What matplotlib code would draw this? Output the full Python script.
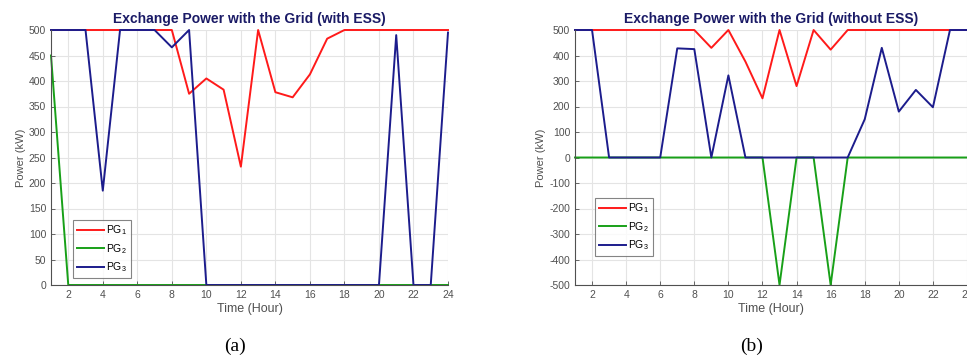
import matplotlib
matplotlib.use("Agg")
import matplotlib.pyplot as plt

plt.rcParams['font.family'] = ['Liberation Sans', 'DejaVu Sans']
plt.rcParams['mathtext.default'] = 'regular'
plt.rcParams['axes.unicode_minus'] = False

hours = list(range(1, 25))

# (a) with ESS
pg1_ess = [500, 500, 500, 500, 500, 500, 500, 500, 375, 405, 383, 232,
           500, 378, 368, 413, 483, 500, 500, 500, 500, 500, 500, 500]
pg2_ess = [450, 0, 0, 0, 0, 0, 0, 0, 0, 0, 0, 0,
           0, 0, 0, 0, 0, 0, 0, 0, 0, 0, 0, 0]
pg3_ess = [500, 500, 500, 185, 500, 500, 500, 466, 500, 0, 0, 0,
           0, 0, 0, 0, 0, 0, 0, 0, 490, 0, 0, 495]

# (b) without ESS
pg1_no = [500, 500, 500, 500, 500, 500, 500, 500, 430, 500, 376, 232,
          500, 280, 500, 423, 500, 500, 500, 500, 500, 500, 500, 500]
pg2_no = [0, 0, 0, 0, 0, 0, 0, 0, 0, 0, 0, 0,
          -500, 0, 0, -500, 0, 0, 0, 0, 0, 0, 0, 0]
pg3_no = [500, 500, 0, 0, 0, 0, 428, 425, 0, 322, 0, 0,
          0, 0, 0, 0, 0, 150, 430, 180, 265, 197, 500, 500]

labels = ['PG$_1$', 'PG$_2$', 'PG$_3$']
colors = ['#ff1a1a', '#18a018', '#1c1c8c']
title_color = '#1a1a66'
gray = '#505050'

W, H = 967, 361
fig = plt.figure(figsize=(W / 100, H / 100), dpi=100)


def make_axes(left, right, top, bottom):
    return fig.add_axes([left / W, 1 - bottom / H, (right - left) / W, (bottom - top) / H])


def style(ax, title, yticks, ylim, legend_anchor):
    ax.set_xlim(1, 24)
    ax.set_ylim(*ylim)
    ax.set_xticks(range(2, 25, 2))
    ax.set_yticks(yticks)
    ax.grid(True, color='#e4e4e4', linewidth=0.8)
    ax.set_axisbelow(True)
    for s in ['top', 'right']:
        ax.spines[s].set_visible(False)
    for s in ['left', 'bottom']:
        ax.spines[s].set_color(gray)
        ax.spines[s].set_linewidth(0.8)
    ax.tick_params(direction='in', length=3, colors=gray, labelsize=7.5, width=0.6)
    ax.set_title(title, color=title_color, fontsize=10, fontweight='bold', pad=5)
    ax.set_xlabel('Time (Hour)', color=gray, fontsize=9, labelpad=2)
    ax.set_ylabel('Power (kW)', color=gray, fontsize=8, labelpad=2)
    leg = ax.legend(loc='lower left', bbox_to_anchor=legend_anchor, fontsize=7.5,
                    frameon=True, fancybox=False, handlelength=2.6,
                    handletextpad=0.25, borderpad=0.35, labelspacing=0.45,
                    borderaxespad=0)
    leg.get_frame().set_edgecolor('#666666')
    leg.get_frame().set_linewidth(0.8)


ax1 = make_axes(51, 448, 30, 285)
for ys, c, lab in zip([pg1_ess, pg2_ess, pg3_ess], colors, labels):
    ax1.plot(hours, ys, color=c, linewidth=1.4, label=lab, clip_on=False)
style(ax1, 'Exchange Power with the Grid (with ESS)', range(0, 501, 50), (0, 500),
      ((73 - 51) / (448 - 51), (285 - 278) / (285 - 30)))

ax2 = make_axes(575, 967, 30, 285)
for ys, c, lab in zip([pg1_no, pg2_no, pg3_no], colors, labels):
    ax2.plot(hours, ys, color=c, linewidth=1.4, label=lab, clip_on=False)
style(ax2, 'Exchange Power with the Grid (without ESS)', range(-500, 501, 100), (-500, 500),
      ((595 - 575) / (967 - 575), (285 - 256) / (285 - 30)))

fig.text(235 / W, 1 - 346 / H, '(a)', family='Liberation Serif', fontsize=14,
         ha='center', va='center')
fig.text(752 / W, 1 - 346 / H, '(b)', family='Liberation Serif', fontsize=14,
         ha='center', va='center')

fig.savefig('out.png', dpi=100)
